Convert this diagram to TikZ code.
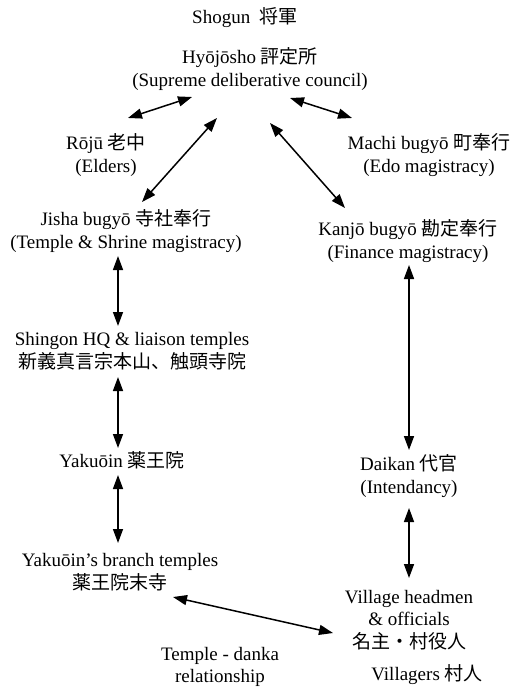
\documentclass[tikz,border=0pt]{standalone}
\usepackage{fontspec}
\setmainfont{Liberation Serif}
\newfontfamily\jp{Noto Sans CJK JP}
\usetikzlibrary{arrows.meta,calc}

\tikzset{
  label/.style={font=\fontsize{19}{22.5}\selectfont, align=center, inner sep=0pt},
  link/.style={{Triangle[length=14pt,width=10pt]}-{Triangle[length=14pt,width=10pt]}, line width=1.5pt}
}

\begin{document}
\begin{tikzpicture}[x=1pt,y=-1pt]

\useasboundingbox (0,0) rectangle (518,687);

\node[label] (shogun) at (245,18) {Shogun\ \ {\jp 将軍}};
\node[label] (hyo) at (250,69) {Hyōjōsho {\jp 評定所}\\(Supreme deliberative council)};

\node[label] (roju) at (106,155) {Rōjū {\jp 老中}\\(Elders)};
\node[label] (machi) at (429,155) {Machi bugyō {\jp 町奉行}\\(Edo magistracy)};

\node[label] (jisha) at (126,231) {Jisha bugyō {\jp 寺社奉行}\\(Temple \& Shrine magistracy)};
\node[label] (kanjo) at (408,241) {Kanjō bugyō {\jp 勘定奉行}\\(Finance magistracy)};

\node[label] (shingon) at (132,351) {Shingon HQ \& liaison temples\\{\jp 新義真言宗本山、触頭寺院}};
\node[label] (yakuoin) at (122,460) {Yakuōin {\jp 薬王院}};
\node[label] (branch) at (120,572) {Yakuōin’s branch temples\\{\jp 薬王院末寺}};

\node[label] (daikan) at (409,476) {Daikan {\jp 代官}\\(Intendancy)};
\node[label] (village) at (409,620) {Village headmen\\\& officials\\{\jp 名主・村役人}};

\node[label] (danka) at (220,667) {Temple - danka\\relationship};
\node[label] (villagers) at (427,675) {Villagers {\jp 村人}};

% upper links
\draw[link] ($(hyo)+(-58,28)$) -- ($(roju)+(22,-37)$);
\draw[link] ($(hyo)+(40,29)$) -- ($(machi)+(-77,-37)$);
\draw[link] ($(hyo)+(-33,49)$) -- ($(jisha)+(16,-29)$);
\draw[link] ($(hyo)+(20,54)$) -- ($(kanjo)+(-63,-33)$);

% temple side
\draw[link] ($(jisha)+(-8,25)$) -- ($(shingon)+(-14,-25)$);
\draw[link] ($(shingon)+(-14,26)$) -- ($(yakuoin)+(-4,-12)$);
\draw[link] ($(yakuoin)+(-4,15)$) -- ($(branch)+(-2,-29)$);

% finance side
\draw[link] ($(kanjo)+(1,24)$) -- ($(daikan)+(0,-26)$);
\draw[link] ($(daikan)+(0,32)$) -- ($(village)+(0,-42)$);

\draw[link] ($(branch)+(53,25)$) -- ($(village)+(-76,13)$);

\end{tikzpicture}
\end{document}
